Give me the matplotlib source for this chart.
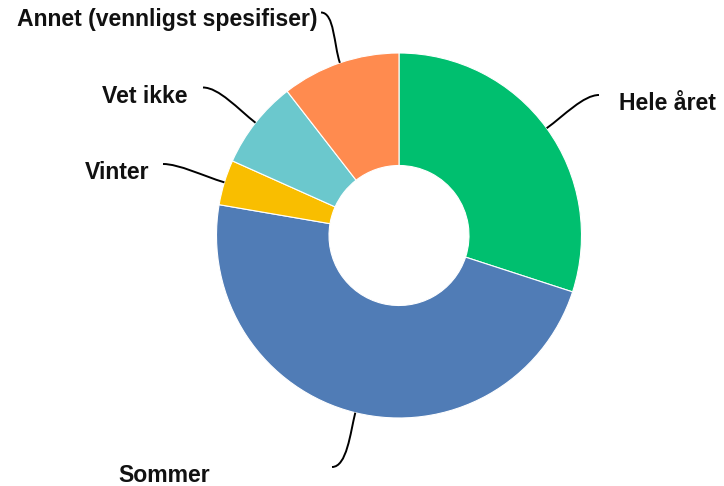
import numpy as np
import matplotlib
matplotlib.use("Agg")
import matplotlib.pyplot as plt
from matplotlib.path import Path
from matplotlib.patches import PathPatch

# Data
categories = ["Hele året", "Sommer", "Vinter", "Vet ikke", "Annet (vennligst spesifiser)"]
values = [30.0, 47.7, 4.0, 7.8, 10.5]
colors = ["#00BF6F", "#507CB6", "#F9BE00", "#6BC8CD", "#FF8B4F"]

W, H = 724, 486
fig = plt.figure(figsize=(W / 100, H / 100), dpi=100)
ax = fig.add_axes([0, 0, 1, 1])

cx, cy = 399.0, 235.5
R = 182.5
ring = 112.5

# y axis inverted (pixel-like coords): startangle=-90 & counterclock=True -> clockwise from top on screen
wedges, _ = ax.pie(values, colors=colors, startangle=-90, counterclock=True,
                   center=(cx, cy), radius=R,
                   wedgeprops=dict(width=ring, edgecolor="white", linewidth=0.8))

ax.set_xlim(0, W)
ax.set_ylim(H, 0)
ax.set_aspect("equal")
ax.axis("off")

# label layout: (text x, baseline y, ha, line end x, line end y)
layout = {
    "Hele året": (619, 110, "left", 599, 95),
    "Sommer": (118, 481.5, "left", 332, 467),
    "Vinter": (149.5, 179, "right", 163, 164),
    "Vet ikke": (187, 103, "right", 203, 87.5),
    "Annet (vennligst spesifiser)": (17, 26, "left", 321, 12.5),
}

font = dict(family=["Liberation Sans", "DejaVu Sans"], fontsize=16.6, fontweight="bold", color="#111111")

for w, cat in zip(wedges, categories):
    th = np.deg2rad((w.theta1 + w.theta2) / 2)
    ux, uy = np.cos(th), np.sin(th)
    sx, sy = cx + R * ux, cy + R * uy
    tx, ty, ha, ex, ey = layout[cat]
    d = np.hypot(ex - sx, ey - sy)
    hdir = 1.0 if ex < cx else -1.0
    p1 = (sx + ux * 0.35 * d, sy + uy * 0.35 * d)
    p2 = (ex + hdir * 0.25 * d, ey)
    path = Path([(sx, sy), p1, p2, (ex, ey)],
                [Path.MOVETO, Path.CURVE4, Path.CURVE4, Path.CURVE4])
    ax.add_patch(PathPatch(path, facecolor="none", edgecolor="black", linewidth=1.4))
    ax.text(tx, ty, cat, ha=ha, va="baseline", **font)

fig.savefig("out.png", dpi=100)
